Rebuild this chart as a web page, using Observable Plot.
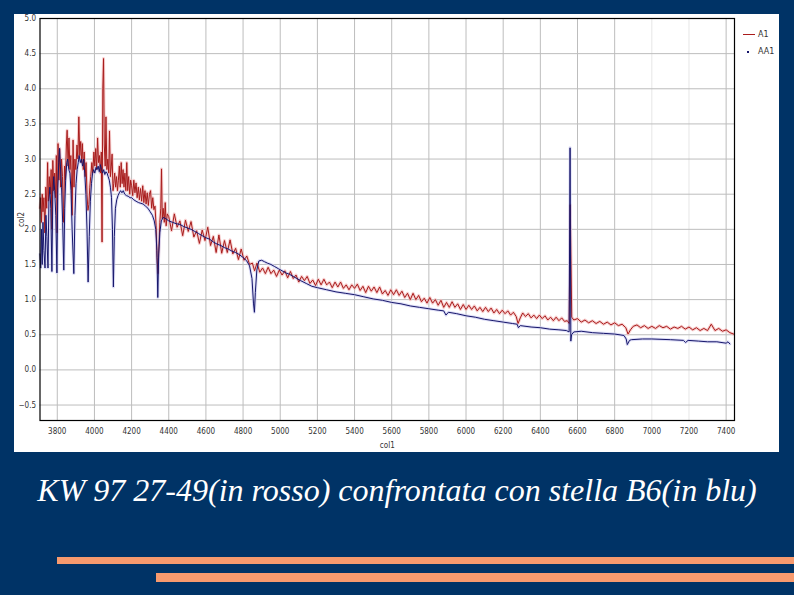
<!DOCTYPE html>
<html>
<head>
<meta charset="utf-8">
<script src="https://cdn.jsdelivr.net/npm/d3@7"></script>
<script src="https://cdn.jsdelivr.net/npm/@observablehq/plot@0.6"></script>
<style>
  html, body { margin: 0; padding: 0; }
  body { width: 794px; height: 595px; background: #003366; position: relative; overflow: hidden; }
  #panel { position: absolute; left: 14px; top: 14px; width: 765px; height: 438px; background: #ffffff; }
  #panel svg { position: absolute; left: 0; top: 0; }
  #legend { position: absolute; left: 727px; top: 12px; font-family: "DejaVu Sans", sans-serif; font-size: 8px; color: #333; line-height: 17px; }
  #legend div { position: relative; height: 17px; }
  #legend .ln { position: absolute; left: 2px; top: 8px; width: 12px; height: 1px; background: #aa1c1c; }
  #legend .dot { position: absolute; left: 6px; top: 8px; width: 2px; height: 2px; background: #15156b; }
  #legend span { position: absolute; left: 17px; top: 0; }
  #caption { position: absolute; left: 0; top: 472px; width: 794px; text-align: center; color: #ffffff;
             font-family: "Liberation Serif", "Times New Roman", Tinos, "DejaVu Serif", serif;
             font-style: italic; font-weight: normal; font-size: 32px; line-height: 36px; white-space: nowrap; }
  .bar { position: absolute; background: #f79a6e; }
</style>
</head>
<body>
<div id="panel">
  <div id="legend">
    <div><i class="ln"></i><span>A1</span></div>
    <div><i class="dot"></i><span>AA1</span></div>
  </div>
</div>
<div id="caption">KW 97 27-49(in rosso) confrontata con stella B6(in blu)</div>
<div class="bar" style="left:57px;top:557px;width:737px;height:7px"></div>
<div class="bar" style="left:156px;top:573px;width:638px;height:9px"></div>
<script>
// x ticks (wavelength) and y ticks
const xTicks = [3800,4000,4200,4400,4600,4800,5000,5200,5400,5600,5800,6000,6200,6400,6600,6800,7000,7200,7400];
const xFaint = [7000,7200];
const yTicks = [-0.5,0.0,0.5,1.0,1.5,2.0,2.5,3.0,3.5,4.0,4.5,5.0];

// A1: KW 97 27-49 (red)  [wavelength, flux]
const redSeries = [
[3707,2.30],[3711,2.45],[3715,2.10],[3719,2.50],[3723,2.25],[3728,2.45],[3733,1.95],[3738,2.60],[3743,2.30],[3748,2.95],
[3752,2.40],[3757,2.75],[3762,2.50],[3767,2.85],[3771,2.00],[3776,2.98],[3781,2.55],[3786,2.80],[3791,2.45],[3795,3.05],
[3799,1.95],[3804,3.22],[3809,2.70],[3813,3.15],[3818,2.60],[3823,3.00],[3828,2.75],[3834,2.10],[3839,2.90],[3844,2.70],
[3849,3.20],[3853,3.41],[3858,2.90],[3863,3.30],[3868,2.85],[3873,3.05],[3880,2.20],[3885,3.27],[3890,2.60],[3895,3.00],
[3900,2.85],[3906,3.20],[3911,3.00],[3916,3.60],[3921,3.05],[3926,3.25],[3931,2.95],[3935,3.22],[3940,2.85],[3945,3.10],
[3950,2.75],[3955,2.95],[3960,2.50],[3965,2.27],[3970,2.35],[3975,2.60],[3980,2.75],[3986,2.95],[3991,2.80],[3997,3.10],
[4002,2.90],[4007,3.15],[4012,2.85],[4017,3.30],[4022,2.95],[4027,3.05],[4032,2.80],[4037,3.10],[4041,1.82],[4045,4.00],
[4049,4.43],[4053,3.20],[4058,2.90],[4062,3.60],[4067,2.85],[4072,3.00],[4077,2.80],[4081,3.40],[4086,2.75],[4091,2.90],
[4095,3.07],[4100,2.55],[4104,2.65],[4109,2.80],[4114,2.60],[4119,2.75],[4124,2.55],[4129,2.70],[4134,2.90],[4139,2.60],
[4144,2.95],[4149,2.65],[4154,2.85],[4159,2.60],[4164,2.80],[4169,2.55],[4174,2.95],[4179,2.55],[4184,2.75],[4190,2.50],
[4195,2.70],[4200,2.62],[4206,2.48],[4212,2.70],[4218,2.52],[4224,2.66],[4230,2.45],[4236,2.60],[4242,2.42],[4248,2.58],
[4254,2.40],[4260,2.62],[4266,2.38],[4272,2.55],[4278,2.36],[4284,2.52],[4290,2.34],[4296,2.50],[4302,2.55],[4308,2.30],
[4314,2.45],[4320,2.28],[4326,2.33],[4332,2.05],[4337,1.60],[4342,1.37],[4347,1.75],[4352,2.10],[4357,2.30],[4361,2.86],
[4365,2.15],[4370,2.30],[4376,2.10],[4381,2.38],[4386,2.05],[4392,2.22],
[4400,2.18],[4415,1.98],[4430,2.22],[4445,2.03],[4460,2.12],[4475,1.91],[4490,2.13],[4505,1.97],[4520,2.11],[4535,1.89],
[4550,1.98],[4565,1.80],[4580,1.99],[4595,1.84],[4610,2.03],[4625,1.77],[4640,1.90],[4655,1.67],[4670,1.92],[4685,1.66],
[4700,1.84],[4715,1.67],[4730,1.85],[4745,1.65],[4760,1.73],[4775,1.57],[4790,1.72],[4805,1.56],[4820,1.62],[4835,1.50],
[4850,1.52],[4862,1.41],[4875,1.52],[4890,1.39],[4905,1.45],[4920,1.37],[4935,1.46],[4950,1.37],[4965,1.42],[4980,1.33],
[4995,1.42],[5010,1.35],[5025,1.41],[5040,1.31],[5055,1.40],[5070,1.30],[5085,1.35],[5100,1.25],[5115,1.33],[5130,1.27],
[5145,1.33],[5160,1.23],[5175,1.28],[5190,1.20],[5205,1.29],[5220,1.21],[5235,1.29],[5250,1.21],[5265,1.25],[5280,1.17],
[5295,1.25],[5310,1.18],[5325,1.25],[5340,1.16],[5355,1.21],[5370,1.14],[5385,1.21],[5400,1.16],[5415,1.22],[5430,1.13],
[5445,1.19],[5460,1.10],[5475,1.19],[5490,1.12],[5505,1.18],[5520,1.10],[5535,1.18],[5550,1.08],[5565,1.13],[5580,1.06],
[5595,1.14],[5610,1.07],[5625,1.14],[5640,1.06],[5655,1.12],[5670,1.03],[5685,1.09],[5700,1.00],[5715,1.09],[5730,1.00],
[5745,1.06],[5760,0.97],[5775,1.02],[5790,0.95],[5805,1.03],[5820,0.95],[5835,1.00],[5850,0.92],[5865,0.99],[5880,0.89],
[5895,0.96],[5910,0.89],[5925,0.97],[5940,0.89],[5955,0.94],[5970,0.86],[5985,0.93],[6000,0.86],[6015,0.92],[6030,0.86],
[6045,0.91],[6060,0.84],[6075,0.89],[6090,0.83],[6105,0.89],[6120,0.83],[6135,0.88],[6150,0.81],[6165,0.86],[6180,0.80],
[6195,0.85],[6210,0.80],[6225,0.84],[6240,0.78],[6255,0.82],[6270,0.76],[6280,0.66],[6292,0.74],[6305,0.81],[6320,0.76],
[6335,0.80],[6350,0.74],[6365,0.78],[6380,0.73],[6395,0.78],[6410,0.73],[6425,0.77],[6440,0.71],[6455,0.75],[6470,0.70],
[6485,0.75],[6500,0.70],[6515,0.74],[6530,0.69],[6545,0.70],[6555,0.66],[6561,2.35],[6565,1.55],[6569,0.75],[6580,0.71],
[6600,0.73],[6620,0.68],[6640,0.71],[6660,0.67],[6680,0.70],[6700,0.66],[6720,0.69],[6740,0.65],[6760,0.68],[6780,0.64],
[6800,0.67],[6820,0.63],[6840,0.65],[6860,0.60],[6872,0.51],[6885,0.57],[6900,0.62],[6920,0.64],[6940,0.60],[6960,0.63],
[6980,0.59],[7000,0.62],[7020,0.59],[7040,0.63],[7060,0.60],[7080,0.62],[7100,0.58],[7120,0.61],[7140,0.59],[7160,0.62],
[7180,0.58],[7200,0.61],[7220,0.57],[7240,0.60],[7260,0.56],[7280,0.59],[7300,0.56],[7320,0.65],[7340,0.56],[7360,0.59],
[7380,0.55],[7400,0.57],[7420,0.53],[7440,0.51]
];

// AA1: B6 comparison star (blue)  [wavelength, flux]
const blueSeries = [
[3707,1.65],[3711,1.45],[3715,2.00],[3719,1.50],[3723,2.10],[3728,1.70],[3734,1.45],[3739,2.20],[3744,1.90],[3750,1.45],
[3755,2.40],[3760,2.60],[3765,2.30],[3771,1.40],[3776,2.50],[3781,2.75],[3786,2.55],[3792,2.20],[3798,1.38],[3803,2.60],
[3808,2.95],[3812,3.15],[3817,2.90],[3823,2.60],[3829,2.10],[3835,1.42],[3840,2.30],[3845,2.70],[3851,2.95],[3856,3.00],
[3862,2.85],[3868,2.80],[3874,2.55],[3880,2.00],[3889,1.37],[3895,2.20],[3901,2.65],[3907,2.85],[3913,2.95],[3918,3.05],
[3924,2.95],[3930,3.00],[3936,2.90],[3942,3.00],[3948,2.80],[3954,2.50],[3960,2.00],[3966,1.25],[3972,1.90],[3978,2.40],
[3984,2.65],[3990,2.80],[3996,2.85],[4002,2.80],[4008,2.88],[4014,2.85],[4020,2.90],[4026,2.82],[4032,2.92],[4038,2.85],
[4044,2.80],[4050,2.85],[4056,2.78],[4062,2.82],[4068,2.80],[4074,2.75],[4080,2.70],[4086,2.60],[4092,2.45],[4097,2.00],
[4102,1.18],[4107,1.90],[4113,2.30],[4120,2.42],[4127,2.48],[4134,2.52],[4141,2.55],[4148,2.52],[4155,2.55],[4163,2.50],
[4172,2.48],[4182,2.47],[4192,2.45],[4200,2.45],[4212,2.42],[4224,2.40],[4238,2.38],[4250,2.37],[4262,2.36],[4275,2.33],
[4288,2.30],[4300,2.25],[4312,2.20],[4322,2.12],[4330,2.00],[4336,1.70],[4341,1.03],[4346,1.65],[4352,1.95],[4360,2.12],
[4370,2.17],[4385,2.15],[4400,2.12],[4420,2.10],[4440,2.08],[4460,2.07],[4480,2.04],[4500,2.02],[4520,2.00],[4540,1.97],
[4560,1.94],[4580,1.91],[4600,1.88],[4620,1.86],[4640,1.82],[4660,1.79],[4680,1.77],[4700,1.74],[4720,1.72],[4740,1.69],
[4760,1.67],[4780,1.64],[4800,1.60],[4820,1.55],[4835,1.48],[4848,1.30],[4856,0.95],[4861,0.82],[4866,1.10],[4874,1.42],
[4885,1.55],[4900,1.56],[4915,1.54],[4930,1.52],[4950,1.50],[4970,1.47],[4990,1.44],[5010,1.41],[5030,1.38],[5050,1.36],
[5070,1.33],[5090,1.30],[5110,1.27],[5140,1.23],[5170,1.19],[5200,1.17],[5250,1.14],[5300,1.11],[5350,1.09],[5400,1.07],
[5450,1.04],[5500,1.01],[5550,0.99],[5600,0.96],[5650,0.94],[5700,0.91],[5750,0.89],[5800,0.87],[5850,0.85],[5880,0.84],
[5892,0.78],[5905,0.82],[5950,0.80],[6000,0.77],[6050,0.75],[6100,0.72],[6150,0.70],[6200,0.68],[6250,0.66],[6275,0.65],
[6282,0.60],[6292,0.63],[6350,0.61],[6400,0.60],[6450,0.58],[6500,0.57],[6540,0.56],[6555,0.54],[6560,3.16],[6564,0.41],
[6568,0.50],[6580,0.54],[6620,0.55],[6680,0.53],[6740,0.52],[6800,0.51],[6850,0.49],[6862,0.44],[6868,0.36],[6880,0.42],
[6890,0.43],[6950,0.44],[7000,0.44],[7100,0.43],[7170,0.42],[7182,0.39],[7195,0.42],[7250,0.41],[7300,0.40],[7350,0.40],
[7400,0.38],[7410,0.40],[7420,0.37]
];

const fx = d => d[0], fy = d => d[1];
const chart = Plot.plot({
  width: 765,
  height: 438,
  marginLeft: 25.5,
  marginTop: 4,
  marginRight: 45,
  marginBottom: 32,
  x: { domain: [3707, 7445] },
  y: { domain: [-0.72, 5.0] },
  style: { fontFamily: "'DejaVu Sans Condensed','Liberation Sans Narrow','DejaVu Sans',sans-serif", fontSize: "8px", color: "#333", background: "transparent" },
  marks: [
    Plot.gridX(xTicks.filter(t => !xFaint.includes(t)), { stroke: "#bdbdbd", strokeOpacity: 1 }),
    Plot.gridX(xFaint, { stroke: "#e6e6e6", strokeOpacity: 1 }),
    Plot.gridY(yTicks, { stroke: "#bdbdbd", strokeOpacity: 1 }),
    Plot.line(redSeries, { x: fx, y: fy, stroke: "#f3b9b9", strokeWidth: 3, strokeOpacity: 0.7 }),
    Plot.line(blueSeries, { x: fx, y: fy, stroke: "#cfcff2", strokeWidth: 3, strokeOpacity: 0.7 }),
    Plot.line(redSeries, { x: fx, y: fy, stroke: "#a81c1c", strokeWidth: 1 }),
    Plot.line(blueSeries, { x: fx, y: fy, stroke: "#17176b", strokeWidth: 1 }),
    Plot.frame({ stroke: "#000", strokeWidth: 1.2 }),
    Plot.axisX(xTicks, { tickSize: 0, tickPadding: 8, tickFormat: d => String(d), label: "col1", labelAnchor: "center", labelArrow: "none", labelOffset: 27 }),
    Plot.axisY(yTicks, { tickSize: 0, tickPadding: 4, tickFormat: d3.format(".1f"), label: "col2", labelAnchor: "center", labelArrow: "none", labelOffset: 22 })
  ]
});
document.getElementById("panel").appendChild(chart);
</script>
</body>
</html>
